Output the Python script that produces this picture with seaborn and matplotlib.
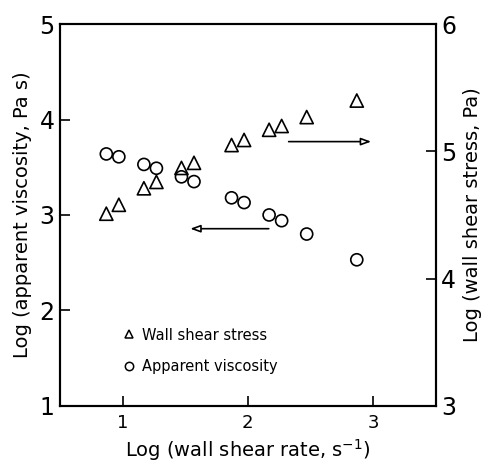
import matplotlib
matplotlib.use("Agg")
import matplotlib.pyplot as plt
from matplotlib.lines import Line2D
import seaborn as sns
import pandas as pd

# Log wall shear rate (s^-1)
shear_rate = [0.87, 0.97, 1.17, 1.27, 1.47, 1.57, 1.87, 1.97, 2.17, 2.27, 2.47, 2.87]
# Log apparent viscosity (Pa s), left axis
viscosity = [3.64, 3.61, 3.53, 3.49, 3.40, 3.35, 3.18, 3.13, 3.00, 2.94, 2.80, 2.53]
# Log wall shear stress (Pa), right axis
shear_stress = [4.51, 4.58, 4.71, 4.76, 4.87, 4.91, 5.05, 5.09, 5.17, 5.20, 5.27, 5.40]

x_ticks = [1, 2, 3]
left_ticks = [1, 2, 3, 4, 5]
right_ticks = [3, 4, 5, 6]

df = pd.DataFrame({"rate": shear_rate, "visc": viscosity, "stress": shear_stress})

sns.set_style("ticks")
plt.rcParams["font.family"] = ["DejaVu Sans"]
plt.rcParams["text.color"] = "black"
plt.rcParams["axes.labelcolor"] = "black"

fig = plt.figure(figsize=(4.85, 4.63), dpi=100)
ax = fig.add_axes([0.1237, 0.1238, 0.7746, 0.8238])
ax2 = ax.twinx()

sns.scatterplot(data=df, x="rate", y="visc", ax=ax, marker="o", s=75,
                facecolor="none", edgecolor="black", linewidth=1.2, legend=False)
sns.scatterplot(data=df, x="rate", y="stress", ax=ax2, marker="^", s=90,
                facecolor="none", edgecolor="black", linewidth=1.2, legend=False)

ax.set_xlim(0.5, 3.5)
ax.set_ylim(1, 5)
ax2.set_ylim(3, 6)
ax.set_xticks(x_ticks)
ax.set_yticks(left_ticks)
ax2.set_yticks(right_ticks)

for a in (ax, ax2):
    for sp in a.spines.values():
        sp.set_linewidth(1.5)
        sp.set_color("black")
    a.tick_params(direction="in", length=7, width=1.2, colors="black",
                  labelcolor="black")

ax.tick_params(axis="y", labelsize=17, pad=4)
ax.tick_params(axis="x", labelsize=13, pad=6)
ax2.tick_params(axis="y", labelsize=17, pad=4)

ax.set_xlabel("Log (wall shear rate, s$^{-1}$)", fontsize=14, labelpad=4)
ax.set_ylabel("Log (apparent viscosity, Pa s)", fontsize=14, labelpad=5)
ax2.set_ylabel("Log (wall shear stress, Pa)", fontsize=14, labelpad=5)

# Arrows pointing each series to its axis
arrow_kw = dict(arrowstyle="-|>,head_length=0.6,head_width=0.22",
                fc="white", ec="black", lw=1.2, shrinkA=0, shrinkB=0)
ax2.annotate("", xy=(2.985, 5.077), xytext=(2.326, 5.077), arrowprops=arrow_kw)
ax.annotate("", xy=(1.54, 2.856), xytext=(2.167, 2.856), arrowprops=arrow_kw)

handles = [
    Line2D([], [], marker="^", ls="none", mfc="none", mec="black", ms=6, mew=1.1,
           label="Wall shear stress"),
    Line2D([], [], marker="o", ls="none", mfc="none", mec="black", ms=6, mew=1.1,
           label="Apparent viscosity"),
]
ax.legend(handles=handles, loc="upper left", bbox_to_anchor=(0.156, 0.22),
          frameon=False, fontsize=10.5, handlelength=0.6, handletextpad=0.6,
          labelspacing=1.1, borderaxespad=0, labelcolor="black")

fig.savefig("out.png", dpi=100)
